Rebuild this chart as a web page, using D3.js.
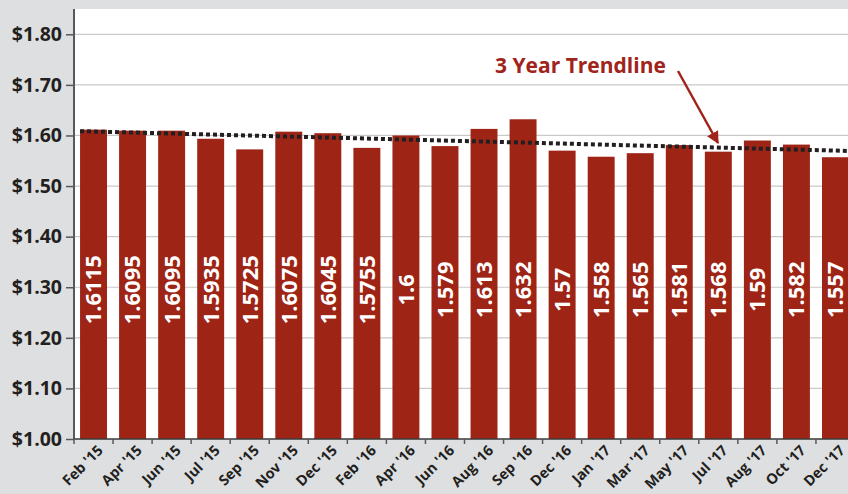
<!DOCTYPE html>
<html>
<head>
<meta charset="utf-8">
<script src="https://cdn.jsdelivr.net/npm/d3@7"></script>
<style>
  html, body { margin: 0; padding: 0; background: #dedfe1; }
  svg { display: block; font-family: "Open Sans", Lato, sans-serif; font-weight: 700; }
</style>
</head>
<body>
<div id="chart"></div>
<script>
/**
 * Data
 */
var months = ["Feb '15", "Apr '15", "Jun '15", "Jul '15", "Sep '15", "Nov '15", "Dec '15",
  "Feb '16", "Apr '16", "Jun '16", "Aug '16", "Sep '16", "Dec '16", "Jan '17", "Mar '17",
  "May '17", "Jul '17", "Aug '17", "Oct '17", "Dec '17"];
var prices = [1.6115, 1.6095, 1.6095, 1.5935, 1.5725, 1.6075, 1.6045, 1.5755, 1.6, 1.579,
  1.613, 1.632, 1.57, 1.558, 1.565, 1.581, 1.568, 1.59, 1.582, 1.557];
var labels = ["1.6115", "1.6095", "1.6095", "1.5935", "1.5725", "1.6075", "1.6045", "1.5755",
  "1.6", "1.579", "1.613", "1.632", "1.57", "1.558", "1.565", "1.581", "1.568", "1.59",
  "1.582", "1.557"];
var yTicks = [1.0, 1.1, 1.2, 1.3, 1.4, 1.5, 1.6, 1.7, 1.8];
var annotation = "3 Year Trendline";

/**
 * Globals
 */
const W = 848, H = 494;
const plot = { l: 74, t: 9, b: 439, step: 39.05 };
const barColor = "#9e2416";
const ink = "#231f20";

var x = d3.scaleBand()
  .domain(months)
  .range([plot.l, plot.l + plot.step * months.length])
  .paddingInner(0.31)
  .paddingOuter(0.155);

var y = d3.scaleLinear().domain([1.0, 1.85]).range([plot.b, plot.t]);

var svg = d3.select("#chart").append("svg")
  .attr("width", W)
  .attr("height", H);

// white plot background
svg.append("rect")
  .attr("x", plot.l)
  .attr("y", plot.t)
  .attr("width", W - plot.l)
  .attr("height", plot.b - plot.t)
  .attr("fill", "#fff");

// grid lines
svg.append("g")
  .selectAll("line")
  .data(yTicks.slice(1))
  .join("line")
  .attr("x1", plot.l)
  .attr("x2", W)
  .attr("y1", function (d) { return y(d); })
  .attr("y2", function (d) { return y(d); })
  .attr("stroke", "#c9c9c9")
  .attr("stroke-width", 1.2);

// bars
svg.append("g")
  .selectAll("rect")
  .data(prices)
  .join("rect")
  .attr("x", function (d, i) { return x(months[i]); })
  .attr("y", function (d) { return y(d); })
  .attr("width", x.bandwidth())
  .attr("height", function (d) { return y(1.0) - y(d); })
  .attr("fill", barColor);

// value labels inside bars
svg.append("g")
  .selectAll("text")
  .data(labels)
  .join("text")
  .attr("transform", function (d, i) {
    return "translate(" + (x(months[i]) + x.bandwidth() / 2) + "," + y(1.295) + ") rotate(-90)";
  })
  .attr("dy", "0.36em")
  .attr("text-anchor", "middle")
  .attr("fill", "#fff")
  .style("font-size", "22px")
  .text(function (d) { return d; });

// least squares trendline through the prices
var n = prices.length;
var mx = (n - 1) / 2;
var my = d3.mean(prices);
var sxy = d3.sum(prices, function (d, i) { return (i - mx) * (d - my); });
var sxx = d3.sum(prices, function (d, i) { return (i - mx) * (i - mx); });
var slope = sxy / sxx;
var idx = d3.scaleLinear()
  .domain([0, n - 1])
  .range([x(months[0]) + x.bandwidth() / 2, x(months[n - 1]) + x.bandwidth() / 2]);
var i0 = idx.invert(x(months[0]));
var i1 = idx.invert(W);
svg.append("line")
  .attr("x1", idx(i0))
  .attr("x2", idx(i1))
  .attr("y1", y(my + slope * (i0 - mx)))
  .attr("y2", y(my + slope * (i1 - mx)))
  .attr("stroke", ink)
  .attr("stroke-width", 4)
  .attr("stroke-dasharray", "4,3");

// y axis
var yAxis = d3.axisLeft(y)
  .tickValues(yTicks)
  .tickSize(8)
  .tickPadding(4)
  .tickFormat(d3.format("$.2f"));
var gy = svg.append("g")
  .attr("transform", "translate(" + plot.l + ",0)")
  .call(yAxis);
gy.select(".domain").attr("stroke", "#58585a").attr("stroke-width", 2)
  .attr("d", "M0," + plot.t + "V" + plot.b);
gy.selectAll(".tick line").attr("stroke", "#58585a").attr("stroke-width", 1.5);
gy.selectAll(".tick text")
  .attr("fill", ink)
  .style("font-size", "19.5px")
  .style("font-family", "'Open Sans', sans-serif")
  .style("font-weight", 700);

// x axis: ticks on band boundaries
var gx = svg.append("g");
gx.append("line")
  .attr("x1", plot.l)
  .attr("x2", W)
  .attr("y1", plot.b)
  .attr("y2", plot.b)
  .attr("stroke", "#3a3a3a")
  .attr("stroke-width", 1.5);
gx.selectAll(".tk")
  .data(months)
  .join("line")
  .attr("class", "tk")
  .attr("x1", function (d) { return x(d) - x.step() * x.paddingInner() / 2; })
  .attr("x2", function (d) { return x(d) - x.step() * x.paddingInner() / 2; })
  .attr("y1", plot.b)
  .attr("y2", plot.b + 5)
  .attr("stroke", "#58585a")
  .attr("stroke-width", 1.5);
gx.selectAll("text")
  .data(months)
  .join("text")
  .attr("transform", function (d) {
    return "translate(" + (x(d) + x.bandwidth() / 2 + 3) + "," + (plot.b + 5) + ") rotate(-45)";
  })
  .attr("dy", "0.71em")
  .attr("text-anchor", "end")
  .attr("fill", ink)
  .style("font-size", "14.5px")
  .text(function (d) { return d; });

// annotation
svg.append("defs").append("marker")
  .attr("id", "arrow")
  .attr("viewBox", "0 0 10 10")
  .attr("refX", 9)
  .attr("refY", 5)
  .attr("markerWidth", 5)
  .attr("markerHeight", 5)
  .attr("orient", "auto")
  .append("path")
  .attr("d", "M0,0L10,5L0,10z")
  .attr("fill", "#a0241a");

svg.append("text")
  .attr("x", 495)
  .attr("y", 73)
  .attr("fill", "#a0241a")
  .style("font-size", "21px")
  .text(annotation);

svg.append("line")
  .attr("x1", 678)
  .attr("y1", 71)
  .attr("x2", 718)
  .attr("y2", 143)
  .attr("stroke", "#a0241a")
  .attr("stroke-width", 2.5)
  .attr("marker-end", "url(#arrow)");
</script>
</body>
</html>
